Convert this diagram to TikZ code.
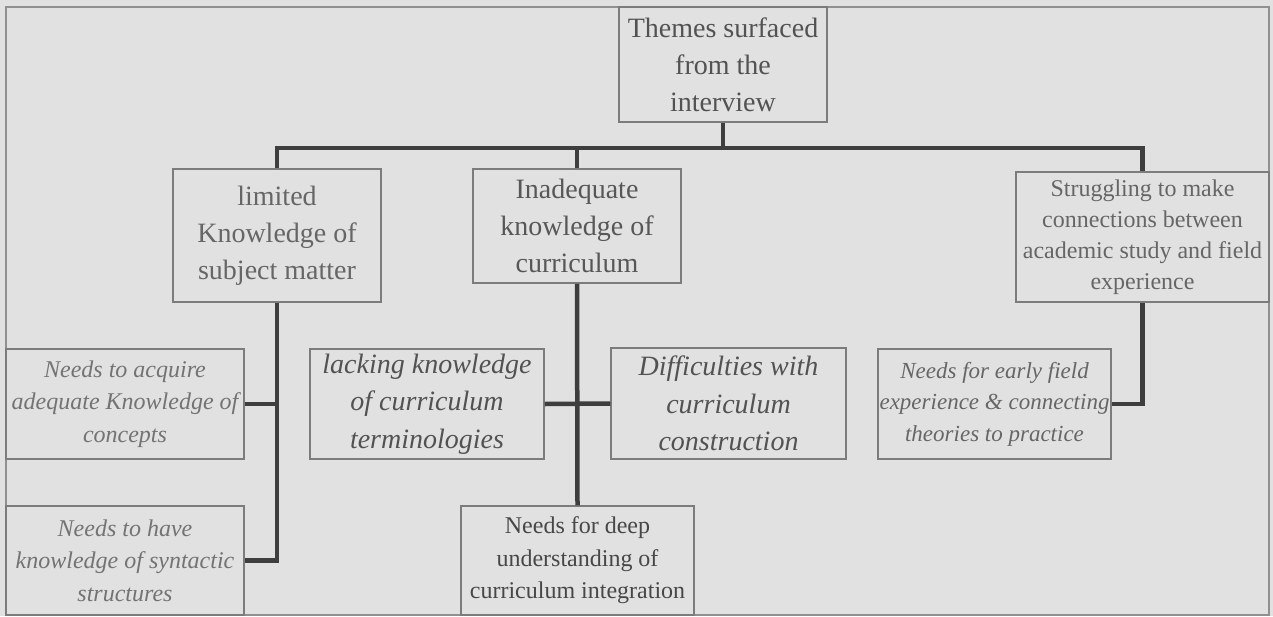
\documentclass[tikz,border=0pt]{standalone}
\usepackage{fontspec}
\setmainfont{Liberation Serif}
\definecolor{paper}{HTML}{E1E1E1}
\definecolor{boxgray}{HTML}{7C7C7C}
\definecolor{linkgray}{HTML}{3E3E3E}
\tikzset{
  box/.style={draw=boxgray, line width=1.5pt, align=center, inner sep=0pt},
  big/.style={font=\fontsize{28}{37}\selectfont},
  small/.style={font=\fontsize{24}{32.5}\selectfont},
  smallit/.style={font=\fontsize{24}{32.5}\selectfont\itshape},
  bigit/.style={font=\fontsize{28}{37.5}\selectfont\itshape},
  link/.style={draw=linkgray, line width=4.5pt}
}
\begin{document}
\begin{tikzpicture}[x=1pt,y=-1pt]
    \fill[paper] (0,0) rectangle (1273,616);
    \useasboundingbox (0,0) rectangle (1273,616);
    \draw[boxgray!85, line width=1.5pt] (6,7) rectangle (1269,615);
    % top and first level
    \node[box, big, text=black!68, minimum width=208pt, minimum height=115pt] (root) at (723,64.5) {Themes surfaced\\from the\\interview};
    \node[box, big, text=black!60, minimum width=208pt, minimum height=133pt] (lim) at (277,235.5) {limited\\Knowledge of\\subject matter};
    \node[box, big, text=black!66, minimum width=208pt, minimum height=114pt] (inad) at (577,226) {Inadequate\\knowledge of\\curriculum};
    \node[box, font=\fontsize{24}{31}\selectfont, text=black!60, minimum width=253pt, minimum height=130pt] (strug) at (1142.5,237) {Struggling to make\\connections between\\academic study and field\\experience};
    % second level
    \node[box, smallit, text=black!55, minimum width=238pt, minimum height=110pt] (acq) at (125,404) {Needs to acquire\\adequate Knowledge of\\concepts};
    \node[box, smallit, text=black!55, minimum width=238pt, minimum height=109pt] (synt) at (125,560.5) {Needs to have\\knowledge of syntactic\\structures};
    \node[box, bigit, text=black!68, minimum width=234pt, minimum height=110pt] (lack) at (427,404) {lacking knowledge\\of curriculum\\terminologies};
    \node[box, bigit, text=black!68, minimum width=235pt, minimum height=111pt] (diff) at (728.5,403.5) {Difficulties with\\curriculum\\construction};
    \node[box, font=\fontsize{23}{31.5}\selectfont\itshape, text=black!60, minimum width=233pt, minimum height=110pt] (early) at (994.5,404) {Needs for early field\\experience \& connecting\\theories to practice};
    \node[box, small, text=black!72, minimum width=233pt, minimum height=109pt] (deep) at (577.5,560.5) {Needs for deep\\understanding of\\curriculum integration};
    % connectors
    \coordinate (bus) at (723,148);
    \draw[link] (root.south) -- (bus);
    \draw[link] (lim.north) -- (lim.north |- bus) -- (strug.north |- bus) -- (strug.north);
    \draw[link] (inad.north) -- (inad.north |- bus);
    \draw[link] (lim.south) |- (synt.east);
    \draw[link] (acq.east) -- (acq.east -| lim.south);
    \draw[link] (inad.south) -- (deep.north);
    \draw[link] (lack.east) -- (diff.west);
    \draw[link] (strug.south) |- (early.east);
\end{tikzpicture}
\end{document}
